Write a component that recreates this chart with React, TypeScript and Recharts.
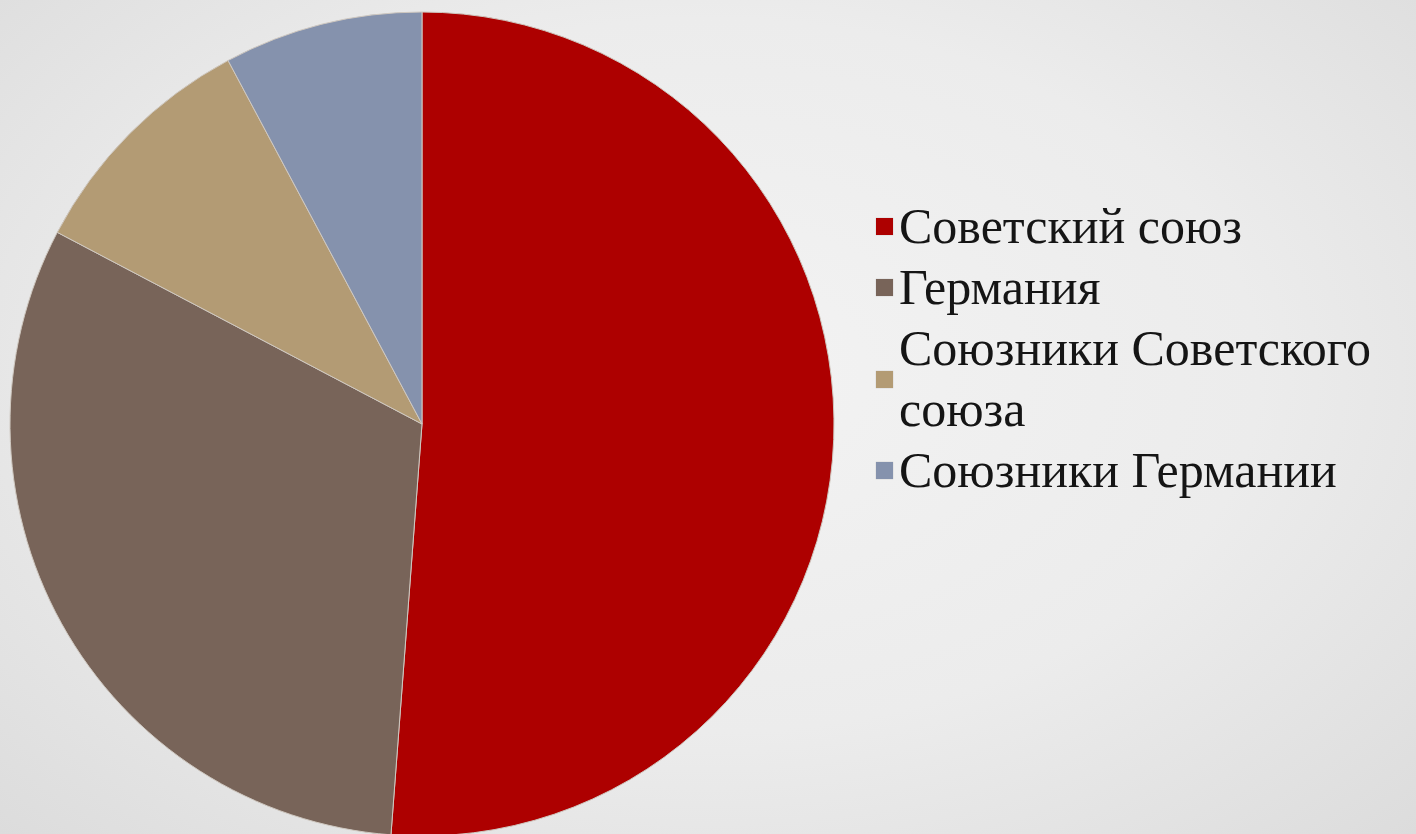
import { PieChart, Pie, Cell, Legend } from "recharts"

const countries = ["Советский союз", "Германия", "Союзники Советского союза", "Союзники Германии"]
const shares = [51.2, 31.5, 9.5, 7.8]
const colors = ["#ad0000", "#786459", "#b39b74", "#8592ad"]

const data = countries.map((name, i) => ({ name, value: shares[i] }))

function LegendList() {
  return (
    <div style={{ width: 540, fontFamily: '"Liberation Serif", "Times New Roman", serif', fontSize: 50, color: "#151515" }}>
      {data.map((d, i) => (
        <div key={d.name} style={{ display: "flex", alignItems: "center", lineHeight: "61px" }}>
          <span style={{ width: 17, height: 17, background: colors[i], flexShrink: 0, marginRight: 6, boxShadow: "0 0 1px rgba(0,0,0,0.25)" }} />
          <span style={{ width: 510 }}>{d.name}</span>
        </div>
      ))}
    </div>
  )
}

export default function App() {
  return (
    <div
      style={{
        position: "fixed",
        left: 0,
        top: 0,
        width: 1416,
        height: 834,
        overflow: "hidden",
        background: "radial-gradient(ellipse at 50% 45%, #f3f3f3 0%, #ececec 55%, #dcdcdc 100%)",
      }}
    >
      <PieChart width={1416} height={834}>
        <Pie
          data={data}
          dataKey="value"
          nameKey="name"
          cx={417}
          cy={419}
          outerRadius={412}
          startAngle={90}
          endAngle={-270}
          stroke="#cfc8c0"
          strokeWidth={1}
          isAnimationActive={false}
        >
          {data.map((d, i) => (
            <Cell key={d.name} fill={colors[i]} />
          ))}
        </Pie>
        <Legend
          layout="vertical"
          content={() => <LegendList />}
          wrapperStyle={{ left: 876, top: 196, width: 540 }}
        />
      </PieChart>
    </div>
  )
}
